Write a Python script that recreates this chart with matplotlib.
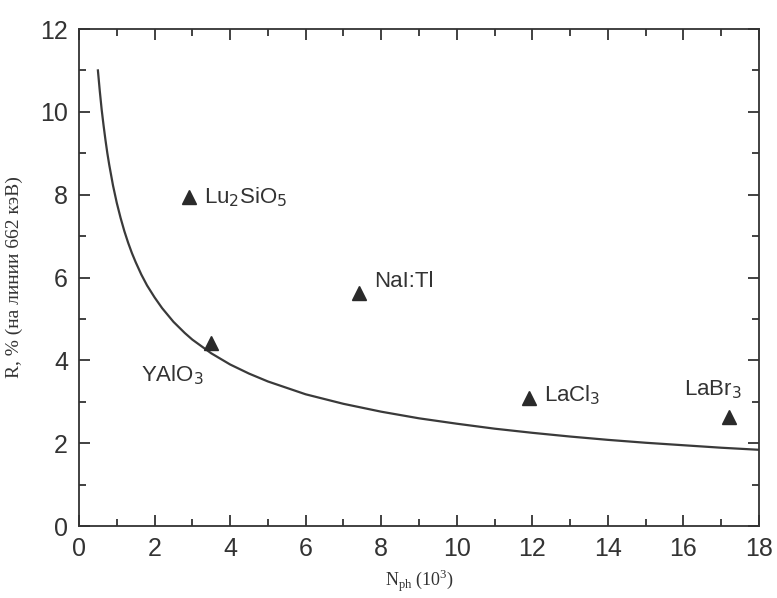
import numpy as np
import matplotlib.pyplot as plt
from matplotlib.ticker import MultipleLocator

# theoretical curve
curve_n = [0.5, 0.55, 0.6, 0.65, 0.7, 0.75, 0.8, 0.9, 1.0, 1.1, 1.2, 1.3, 1.4, 1.5, 1.65, 1.8, 2.0, 2.2, 2.5, 2.8, 3.0, 3.5,
           4.0, 4.5, 5.0, 6.0, 7.0, 8.0, 9.0, 10.0, 11.0, 12.0, 13.0, 14.0, 15.0, 16.0, 17.0, 18.0]
curve_r = [11.0, 10.5, 10.05, 9.67, 9.32, 9.0, 8.72, 8.22, 7.8, 7.44, 7.12, 6.84, 6.59, 6.37, 6.07, 5.81, 5.52, 5.26, 4.93, 4.66,
           4.5, 4.17, 3.9, 3.68, 3.49, 3.18, 2.95, 2.76, 2.6, 2.47, 2.35, 2.25, 2.16, 2.08, 2.01, 1.95, 1.89, 1.84]

# crystals
names = ['Lu$_2$SiO$_5$', 'YAlO$_3$', 'NaI:Tl', 'LaCl$_3$', 'LaBr$_3$']
n_ph = [2.9, 3.5, 7.4, 11.9, 17.2]
res = [7.95, 4.42, 5.62, 3.1, 2.62]
label_pos = [(3.3, 7.95, 'left'), (3.3, 3.65, 'right'), (7.8, 5.9, 'left'), (12.3, 3.15, 'left'), (17.55, 3.3, 'right')]

fig = plt.figure(figsize=(7.77, 5.98), dpi=100)
ax = fig.add_axes([0.1017, 0.1204, 0.8751, 0.8311])

ink = '#333333'
ax.plot(curve_n, curve_r, color='#3a3a3a', lw=1.6)
ax.plot(n_ph, res, linestyle='none', marker='^', color='#2a2a2a', markersize=10)

for nm, (tx, ty, ha) in zip(names, label_pos):
    ax.text(tx, ty, nm, ha=ha, va='center', fontsize=16, color=ink, family='Liberation Sans')

ax.set_xlim(0, 18)
ax.set_ylim(0, 12)
ax.xaxis.set_major_locator(MultipleLocator(2))
ax.xaxis.set_minor_locator(MultipleLocator(1))
ax.yaxis.set_major_locator(MultipleLocator(2))
ax.yaxis.set_minor_locator(MultipleLocator(1))
ax.tick_params(which='both', direction='in', top=True, right=True, color=ink, width=1.3)
ax.tick_params(which='major', length=8, labelsize=18, labelcolor=ink, pad=8)
ax.tick_params(which='minor', length=5)
for lab in ax.get_xticklabels() + ax.get_yticklabels():
    lab.set_family('Liberation Sans')
for sp in ax.spines.values():
    sp.set_color(ink)
    sp.set_linewidth(1.3)

ax.set_xlabel(r'N$_{\mathregular{ph}}$ (10$^{\mathregular{3}}$)', family='Liberation Serif', fontsize=13, color=ink, labelpad=5)
ax.set_ylabel('R, % (на линии 662 кэВ)', family='Liberation Serif', fontsize=14, color=ink, labelpad=12)

fig.savefig('out.png', dpi=100)
